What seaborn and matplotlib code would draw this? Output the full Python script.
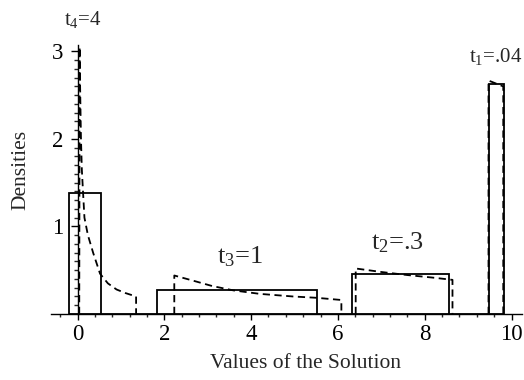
import numpy as np
import matplotlib
matplotlib.use("Agg")
import matplotlib.pyplot as plt
from matplotlib.ticker import MultipleLocator, FixedLocator
import seaborn as sns

# Histogram bins (one block per solution mode) and their densities
bin_edges = [-0.2, 0.54, 1.83, 5.52, 6.33, 8.56, 9.47, 9.83]
bin_heights = [1.38, 0.0, 0.274, 0.0, 0.457, 0.0, 2.63]

# Theoretical densities (dashed), one per parameter value
t4_x = [0.04, 0.05, 0.06, 0.07, 0.08, 0.10, 0.13, 0.16, 0.24, 0.36, 0.52, 0.70, 0.90, 1.10, 1.35, 1.35]
t4_y = [0.0, 3.05, 2.6, 2.3, 2.0, 1.65, 1.37, 1.1, 0.9, 0.7, 0.46, 0.35, 0.28, 0.24, 0.20, 0.0]
t3_x = [2.23, 2.23, 2.67, 3.10, 3.59, 4.20, 4.97, 5.51, 6.08, 6.08]
t3_y = [0.0, 0.44, 0.38, 0.32, 0.27, 0.23, 0.20, 0.185, 0.16, 0.0]
t2_x = [6.41, 6.41, 7.00, 7.60, 8.20, 8.64, 8.64]
t2_y = [0.0, 0.52, 0.48, 0.445, 0.415, 0.39, 0.0]
t1_x = [9.47, 9.47, 9.81, 9.81]
t1_y = [0.0, 2.667, 2.60, 0.0]

labels = [r"t$_4$=4", r"t$_3$=1", r"t$_2$=.3", r"t$_1$=.04"]
label_x = [0.13, 3.74, 7.38, 9.64]
label_y = [3.37, 0.65, 0.82, 2.94]
label_size = [15, 19, 19, 15]

sns.set_style("ticks")
plt.rcParams["font.family"] = ["Liberation Serif", "DejaVu Serif"]
plt.rcParams["mathtext.fontset"] = "custom"
plt.rcParams["mathtext.rm"] = "Liberation Serif"
plt.rcParams["mathtext.it"] = "Liberation Serif:italic"
plt.rcParams["mathtext.default"] = "regular"

fig = plt.figure(figsize=(5.24, 3.80), dpi=100)
ax = fig.add_axes([51.46 / 524, 66 / 380, 470.9 / 524, 302 / 380])

centers = [(bin_edges[i] + bin_edges[i + 1]) / 2 for i in range(len(bin_heights))]
sns.histplot(x=centers, weights=bin_heights, bins=bin_edges, fill=False,
             color="black", linewidth=1.3, ax=ax)

for xs, ys in [(t4_x, t4_y), (t3_x, t3_y), (t2_x, t2_y), (t1_x, t1_y)]:
    sns.lineplot(x=xs, y=ys, sort=False, estimator=None, color="black",
                 linewidth=1.3, linestyle=(0, (4, 2.5)), ax=ax)

for txt, x, y, s in zip(labels, label_x, label_y, label_size):
    ax.text(x, y, txt, ha="center", va="center", fontsize=s, clip_on=False)

ax.set_xlim(-0.6, 10.25)
ax.set_ylim(0, 3.45)

ax.spines["left"].set_position(("data", 0))
ax.spines["bottom"].set_position(("data", 0))
ax.spines["left"].set_bounds(0, 3.07)
ax.spines["top"].set_visible(False)
ax.spines["right"].set_visible(False)
for sp in ("left", "bottom"):
    ax.spines[sp].set_linewidth(1.0)
    ax.spines[sp].set_color("black")

ax.set_xticks(range(0, 11, 2))
ax.xaxis.set_minor_locator(MultipleLocator(0.4))
ax.set_yticks([1, 2, 3])
ax.yaxis.set_minor_locator(FixedLocator(np.round(np.arange(0.1, 3.01, 0.1), 2)))
ax.tick_params(axis="x", which="major", direction="out", length=4, width=1, pad=3,
               labelsize=16.5, colors="black")
ax.tick_params(axis="x", which="minor", direction="out", length=2.5, width=1)
ax.tick_params(axis="y", which="major", direction="out", length=5, width=1, pad=5,
               labelsize=16.5, colors="black")
ax.tick_params(axis="y", which="minor", direction="out", length=3, width=1)

ax.set_xlabel("")
ax.set_ylabel("")
fig.text(306 / 524, 1 - 364 / 380, "Values of the Solution", ha="center", va="center",
         fontsize=15.5)
fig.text(21 / 524, 1 - 170 / 380, "Densities", ha="center", va="center",
         rotation=90, fontsize=15.5)

fig.savefig("out.png", dpi=100)
